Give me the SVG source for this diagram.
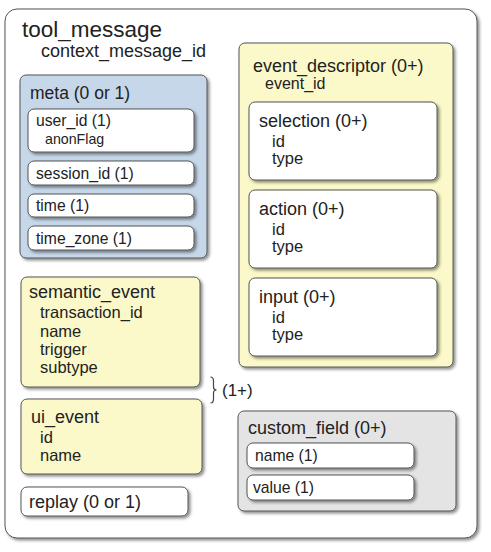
<svg xmlns="http://www.w3.org/2000/svg" width="491" height="552" viewBox="0 0 491 552">
<defs>
<filter id="sh" x="-10%" y="-10%" width="130%" height="130%">
<feDropShadow dx="2" dy="2" stdDeviation="1.5" flood-color="#000" flood-opacity="0.45"/>
</filter>
<style>
text{font-family:"Liberation Sans",Arial,sans-serif;fill:#222}
.box{stroke:#555;stroke-width:1;filter:url(#sh)}
.w{fill:#fff}
.b{fill:#c6d7ea}
.y{fill:#fbf9c9}
.g{fill:#e4e4e4}
.t22{font-size:22.5px}
.t18{font-size:18px}
.t16{font-size:16.5px}
.t15{font-size:15.7px}
.t14{font-size:14.2px}
</style>
</defs>
<rect width="491" height="552" fill="#fff"/>
<g id="tool_message">
<rect class="box w" x="5" y="9" width="472" height="529" rx="12"/>
<text class="t22" x="22" y="37">tool_message</text>
<text class="t18" x="41" y="57">context_message_id</text>
</g>
<g id="meta">
<rect class="box b" x="20" y="75" width="187" height="183" rx="6"/>
<text class="t18" x="30" y="99" style="font-size:17.5px">meta (0 or 1)</text>
<g id="user_id">
<rect class="box w" x="28" y="109" width="166" height="43" rx="6"/>
<text class="t15" x="36" y="126">user_id (1)</text>
<text class="t14" x="45" y="144">anonFlag</text>
</g>
<g id="session_id">
<rect class="box w" x="28" y="161" width="166" height="24" rx="6"/>
<text class="t15" x="36" y="179">session_id (1)</text>
</g>
<g id="time">
<rect class="box w" x="28" y="194" width="166" height="23" rx="6"/>
<text class="t15" x="36" y="211">time (1)</text>
</g>
<g id="time_zone">
<rect class="box w" x="28" y="226" width="166" height="24" rx="6"/>
<text class="t15" x="36" y="244">time_zone (1)</text>
</g>
</g>
<g id="event_descriptor">
<rect class="box y" x="239" y="43" width="214" height="324" rx="6"/>
<text class="t18" x="253" y="72">event_descriptor (0+)</text>
<text class="t15" x="265" y="89" style="font-size:16px">event_id</text>
<g id="selection">
<rect class="box w" x="249" y="102" width="188" height="78" rx="6"/>
<text class="t18" x="259" y="127">selection (0+)</text>
<text class="t16" x="272" y="147">id</text>
<text class="t16" x="272" y="164">type</text>
</g>
<g id="action">
<rect class="box w" x="249" y="190" width="188" height="78" rx="6"/>
<text class="t18" x="259" y="215">action (0+)</text>
<text class="t16" x="272" y="235">id</text>
<text class="t16" x="272" y="252">type</text>
</g>
<g id="input">
<rect class="box w" x="249" y="278" width="188" height="78" rx="6"/>
<text class="t18" x="259" y="303">input (0+)</text>
<text class="t16" x="272" y="323">id</text>
<text class="t16" x="272" y="340">type</text>
</g>
</g>
<g id="semantic_event">
<rect class="box y" x="21" y="277" width="179" height="110" rx="6"/>
<text class="t18" x="29" y="298">semantic_event</text>
<text class="t16" x="40" y="318">transaction_id</text>
<text class="t16" x="40" y="337">name</text>
<text class="t16" x="40" y="355">trigger</text>
<text class="t16" x="40" y="373">subtype</text>
</g>
<g id="ui_event">
<rect class="box y" x="21" y="399" width="181" height="75" rx="6"/>
<text class="t18" x="31" y="423">ui_event</text>
<text class="t16" x="40" y="443">id</text>
<text class="t16" x="40" y="461">name</text>
</g>
<g id="replay">
<rect class="box w" x="21" y="487" width="167" height="29" rx="6"/>
<text class="t18" x="29" y="508">replay (0 or 1)</text>
</g>
<g id="connectors">
<path d="M210.5,377 Q213.5,377 213.5,381 L213.5,387 Q213.5,390 216.5,390 Q213.5,390 213.5,393 L213.5,399 Q213.5,403 210.5,403" fill="none" stroke="#444" stroke-width="1.2"/>
<text class="t16" x="222" y="396" style="font-size:17px">(1+)</text>
</g>
<g id="custom_field">
<rect class="box g" x="238" y="411" width="218" height="100" rx="6"/>
<text class="t18" x="248" y="434">custom_field (0+)</text>
<g id="cf_name">
<rect class="box w" x="247" y="443" width="167" height="25" rx="6"/>
<text class="t15" x="255" y="461">name (1)</text>
</g>
<g id="cf_value">
<rect class="box w" x="247" y="475" width="167" height="25" rx="6"/>
<text class="t15" x="253" y="493">value (1)</text>
</g>
</g>
</svg>
